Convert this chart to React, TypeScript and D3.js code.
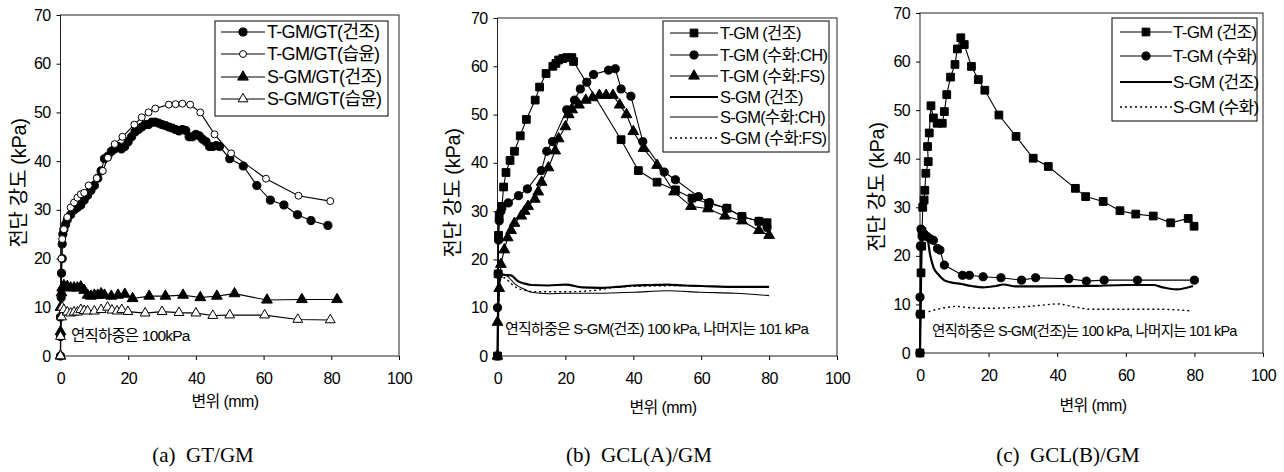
import React, { useEffect, useRef } from 'react';
import * as d3 from 'd3';

type Pt = [number, number];

const xTicks = [0, 20, 40, 60, 80, 100];
const yTicks = [0, 10, 20, 30, 40, 50, 60, 70];

// (a) GT/GM
const aTDry: Pt[] = [
  [0, 0], [0, 4], [0, 8], [0.2, 12], [0.3, 17], [0.5, 20], [0.5, 23], [0.7, 25], [1, 26], [1.5, 27],
  [2, 28], [3, 29], [4, 30], [5, 30.5], [6, 31], [7, 32], [8, 33], [9, 34], [10, 35], [11, 36.5],
  [12, 38], [13, 40.5], [14, 41], [15, 42], [16, 42.5], [17, 43], [18, 42.5], [19, 43], [20, 44],
  [21, 45], [22, 46], [23, 46.5], [24, 47], [25, 47.5], [26, 47.5], [27, 48], [28, 48], [29, 47.8],
  [30, 47.5], [31, 47.3], [32, 47], [33, 46.8], [34, 46.5], [35, 46.2], [36, 46.5], [37, 46.3],
  [38, 45], [39, 45], [40, 45.5], [41, 45.2], [42, 44.5], [43, 44], [44, 43], [45, 43], [46, 43.2],
  [47, 43], [50, 40.5], [54, 39], [58, 35], [62, 32], [66, 31], [70, 29], [74, 27.8], [79, 26.8],
];
const aTWet: Pt[] = [
  [0, 0], [0.3, 20], [0.5, 24], [1, 26], [2, 28.5], [3, 30.5], [4, 31.5], [5, 32.5], [6, 33.2],
  [7, 33.5], [8.3, 35], [10.7, 36.5], [12.5, 38], [14, 40.7], [16, 43.5], [18.3, 45], [21.8, 47.5],
  [24, 49], [26, 50], [28, 50.8], [32, 51.6], [34, 51.7], [36, 51.8], [38.3, 51.6], [41.3, 50],
  [45.5, 45.5], [50.4, 41.6], [60.7, 36.4], [70.3, 32.9], [79.7, 31.8],
];
const aSDry: Pt[] = [
  [0, 0], [0, 5], [0, 10], [0.3, 13], [0.5, 14], [1, 14.5], [2, 14.3], [3, 14], [4, 14], [5, 14],
  [6, 14.2], [7, 13.5], [8, 12.5], [9, 12.3], [10, 12.5], [11, 12.5], [12, 12.8], [13, 12.5],
  [15, 12.3], [17, 12.5], [19, 12.7], [21.3, 11.8], [26.2, 12.3], [31, 12.3], [36.2, 12.5],
  [41.3, 12], [46.2, 12.3], [51.4, 12.8], [61, 11.5], [71.3, 11.6], [81.7, 11.6],
];
const aSWet: Pt[] = [
  [0, 0], [0, 4], [0.3, 8], [0.5, 10], [1, 9.5], [2, 9], [3, 8.8], [4, 9], [5, 9], [6, 9.5],
  [7, 9.3], [8, 9.2], [10, 9.2], [12, 9.5], [13.9, 10], [15.2, 9.4], [16.7, 9.2], [18.1, 9.5],
  [19.9, 9.1], [25, 8.8], [30, 9.1], [35, 8.9], [40, 8.8], [45, 8.3], [50, 8.4], [60.3, 8.4],
  [70.1, 7.5], [79.7, 7.4],
];

// (b) GCL(A)/GM
const bTDry: Pt[] = [
  [0, 0], [0.2, 17], [0.3, 25], [0.5, 29], [1.3, 31], [1.8, 35], [2.5, 38], [3.7, 40.5], [5, 42.4],
  [6.7, 45.6], [8.5, 49], [11.1, 53], [12.4, 55.7], [14.3, 58.5], [16.3, 60], [17.2, 60.6],
  [18, 61.3], [19.2, 61.6], [20.4, 61.8], [21.9, 61.8], [22.4, 61], [36.4, 44.8], [41.5, 38.4],
  [47, 36], [52.4, 34.4], [57.3, 32.7], [62.2, 31.6], [67.6, 30.6], [72, 28.9], [77, 27.9], [79.4, 27.6],
];
const bTCH: Pt[] = [
  [0, 0], [0, 10], [0.2, 17], [0.3, 24], [0.5, 28], [1, 30], [3.2, 31.7], [6.2, 33.2], [8.8, 34.6],
  [12.9, 38.4], [14.5, 42.4], [16.2, 44.4], [20.4, 51], [22.7, 53], [24.4, 55.3], [26.3, 56.7],
  [28.3, 58.3], [32.7, 59.2], [34.7, 59.5], [36.4, 55.3], [39.3, 53.8], [42.8, 44.4], [49.1, 38.1],
  [52.4, 36.5], [59.2, 33], [62.4, 31.8], [67.4, 30.6], [72, 28.9], [77, 27.9], [79.4, 26.6],
];
const bTFS: Pt[] = [
  [0, 0], [0, 7], [0.5, 14], [1, 19], [2, 22], [3, 24.5], [4, 26], [5, 27.5], [7, 29], [8, 30],
  [9, 31], [11, 32.5], [12, 34], [13, 36], [15, 39], [17, 42.5], [18, 45], [20, 47.5], [21, 50],
  [22, 51], [24, 52], [26, 53], [28, 53.5], [30, 54], [32, 54], [34, 54], [36, 52], [38, 50],
  [40, 46.5], [43, 43], [47, 39.5], [52, 34], [57, 31], [62, 30.5], [67, 29], [72, 28], [77, 26], [80, 25],
];
const bSDry: Pt[] = [
  [0, 0], [0.2, 10], [0.5, 15], [1, 17], [2, 16.8], [4, 16.7], [6, 15.5], [8, 15], [10, 14.7],
  [15, 14.6], [20, 14.8], [25, 14.2], [30, 14.1], [35, 14.3], [40, 14.6], [45, 14.7], [50, 14.8],
  [55, 14.6], [60, 14.5], [70, 14.3], [80, 14.3],
];
const bSCH: Pt[] = [
  [0, 0], [0.5, 14], [1, 17], [2, 16.8], [3, 16.5], [5, 15], [8, 13.8], [10, 13.2], [15, 12.9],
  [20, 13], [30, 13], [40, 13.2], [50, 13.5], [60, 13.2], [70, 13], [80, 12.5],
];
const bSFS: Pt[] = [
  [0, 0], [0.5, 13], [1, 16], [2, 16.2], [4, 15], [6, 14], [8, 13.6], [12, 13.3], [20, 13.3],
  [30, 13.7], [35, 14.3], [45, 14.5], [55, 14.6], [60, 14.5],
];

// (c) GCL(B)/GM
const cTDry: Pt[] = [
  [0, 0], [0.2, 8], [0.3, 16.5], [0.5, 22], [0.6, 25], [0.8, 30], [1.2, 31.5], [1.4, 33.5],
  [1.7, 37], [2.4, 39.4], [2.2, 42.5], [2.7, 45.3], [3.2, 50.9], [3.9, 48.4], [5, 47.3], [6.5, 47.3],
  [7.1, 49.7], [7.8, 53.2], [8.9, 56.8], [10.2, 59.4], [10.9, 62.6], [11.9, 64.9], [12.9, 63.5],
  [15, 59], [17, 56.3], [18.9, 54.1], [23, 49], [28, 44.6], [33, 40.1], [37.4, 38.4], [45.3, 33.9],
  [48.3, 32.2], [53.4, 31.2], [58.3, 29.3], [62.9, 28.6], [68, 28.2], [73.1, 26.8], [78.2, 27.7], [79.9, 26.1],
];
const cTHyd: Pt[] = [
  [0, 0], [0, 8], [0, 11.5], [0.1, 22], [0.3, 25.5], [0.6, 24], [1.2, 24.5], [2, 24], [3, 23.5],
  [3.9, 23.2], [5.1, 21.5], [5.8, 21.2], [7.1, 18.1], [12.4, 16], [14.4, 16], [18.4, 15.7],
  [23.6, 15.5], [29.6, 15], [33.7, 15.5], [43.4, 15.3], [48.5, 14.8], [53.7, 15], [63.4, 15], [80, 15],
];
const cSDry: Pt[] = [
  [0, 0], [0.3, 15], [0.5, 22], [1, 24], [2, 24], [3, 20], [4, 17.5], [5.3, 16.2], [7, 15],
  [8.7, 14.6], [12, 14.2], [15, 13.8], [18.4, 13.5], [22, 13.8], [24.3, 14.1], [28, 13.7], [35, 13.7],
  [50, 13.8], [60, 14], [68, 14], [70.9, 13.5], [74.8, 13.1], [79.6, 13.8],
];
const cSHyd: Pt[] = [
  [2.5, 8.5], [5, 9], [8, 9.4], [10, 9.6], [15, 9.3], [20, 9.2], [25, 9.3], [30, 9.5], [35, 9.8],
  [40, 10.1], [45, 9.5], [50, 9], [60, 9], [70, 9], [78.6, 8.7],
];

type Series = {
  name: string;
  data: Pt[];
  marker: 'circle' | 'square' | 'triangle' | null;
  open?: boolean;
  width?: number;
  dash?: string;
};

type Panel = {
  x: [number, number];
  y: [number, number];
  series: Series[];
  legend: { x: number; y: number; w: number; h: number; rows: number[]; l0: number; l1: number; tx: number; fs: number };
  note: { text: string; x: number; y: number; fs: number };
  yLabel: { x: number; y: number };
  xLabel: { x: number; y: number };
  caption: { text: string; x: number };
};

const panels: Panel[] = [
  {
    x: [60.5, 399],
    y: [356, 15],
    series: [
      { name: 'T-GM/GT(건조)', data: aTDry, marker: 'circle' },
      { name: 'T-GM/GT(습윤)', data: aTWet, marker: 'circle', open: true },
      { name: 'S-GM/GT(건조)', data: aSDry, marker: 'triangle' },
      { name: 'S-GM/GT(습윤)', data: aSWet, marker: 'triangle', open: true },
    ],
    legend: { x: 215, y: 21, w: 173, h: 95, rows: [32, 54, 77, 99], l0: 221, l1: 265, tx: 267, fs: 18 },
    note: { text: '연직하중은 100kPa', x: 71, y: 341, fs: 15.5 },
    yLabel: { x: 19, y: 183 },
    xLabel: { x: 225, y: 401 },
    caption: { text: '(a)  GT/GM', x: 203 },
  },
  {
    x: [497.5, 837],
    y: [356, 18],
    series: [
      { name: 'T-GM (건조)', data: bTDry, marker: 'square' },
      { name: 'T-GM (수화:CH)', data: bTCH, marker: 'circle' },
      { name: 'T-GM (수화:FS)', data: bTFS, marker: 'triangle' },
      { name: 'S-GM (건조)', data: bSDry, marker: null, width: 2.2 },
      { name: 'S-GM(수화:CH)', data: bSCH, marker: null, width: 1.1 },
      { name: 'S-GM (수화:FS)', data: bSFS, marker: null, width: 1.4, dash: '2,3' },
    ],
    legend: { x: 663, y: 21, w: 166, h: 131, rows: [33, 55, 76, 97, 117, 138], l0: 670, l1: 718, tx: 720, fs: 16.5 },
    note: { text: '연직하중은 S-GM(건조) 100 kPa, 나머지는 101 kPa', x: 505, y: 334, fs: 15 },
    yLabel: { x: 453, y: 193 },
    xLabel: { x: 663, y: 407 },
    caption: { text: '(b)  GCL(A)/GM', x: 639 },
  },
  {
    x: [920, 1263],
    y: [353, 13],
    series: [
      { name: 'T-GM (건조)', data: cTDry, marker: 'square' },
      { name: 'T-GM (수화)', data: cTHyd, marker: 'circle' },
      { name: 'S-GM (건조)', data: cSDry, marker: null, width: 2.2 },
      { name: 'S-GM (수화)', data: cSHyd, marker: null, width: 1.4, dash: '2,3' },
    ],
    legend: { x: 1112, y: 18, w: 145, h: 103, rows: [32, 56, 82, 107], l0: 1120, l1: 1172, tx: 1173, fs: 17 },
    note: { text: '연직하중은 S-GM(건조)는 100 kPa, 나머지는 101 kPa', x: 932, y: 336, fs: 14.5 },
    yLabel: { x: 877, y: 187 },
    xLabel: { x: 1093, y: 405 },
    caption: { text: '(c)  GCL(B)/GM', x: 1068 },
  },
];

const FONT = "'Liberation Sans', 'Noto Sans CJK KR', sans-serif";

function symbolPath(kind: 'circle' | 'square' | 'triangle', open?: boolean) {
  if (kind === 'circle') return d3.symbol(d3.symbolCircle, open ? 38 : 52)();
  if (kind === 'square') return d3.symbol(d3.symbolSquare, 60)();
  return d3.symbol(d3.symbolTriangle, open ? 42 : 50)();
}

export default function App() {
  const ref = useRef<SVGSVGElement>(null);

  useEffect(() => {
    const svg = d3.select(ref.current);
    svg.selectAll('*').remove();

    panels.forEach((p) => {
      const xs = d3.scaleLinear().domain([0, 100]).range(p.x);
      const ys = d3.scaleLinear().domain([0, 70]).range(p.y);
      const g = svg.append('g');

      // 테두리
      g.append('rect')
        .attr('x', p.x[0]).attr('y', p.y[1])
        .attr('width', p.x[1] - p.x[0]).attr('height', p.y[0] - p.y[1])
        .attr('fill', 'none').attr('stroke', '#222').attr('stroke-width', 1);

      const xAxis = g.append('g').attr('transform', `translate(0,${p.y[0]})`)
        .call(d3.axisBottom(xs).tickValues(xTicks).tickSize(4).tickPadding(13).tickFormat(d3.format('d')));
      const yAxis = g.append('g').attr('transform', `translate(${p.x[0]},0)`)
        .call(d3.axisLeft(ys).tickValues(yTicks).tickSize(4).tickPadding(6).tickFormat(d3.format('d')));
      [xAxis, yAxis].forEach((ax) => {
        ax.select('.domain').remove();
        ax.selectAll('line').attr('stroke', '#000');
        ax.selectAll('text').attr('fill', '#000').style('font-family', FONT)
          .style('font-size', '16px').style('letter-spacing', '-0.6px');
      });

      // 데이터
      p.series.forEach((s) => {
        const line = d3.line<Pt>().x((d) => xs(d[0])).y((d) => ys(d[1]));
        if (!s.marker) line.curve(d3.curveMonotoneX);
        g.append('path')
          .attr('d', line(s.data))
          .attr('fill', 'none').attr('stroke', '#000')
          .attr('stroke-width', s.width ?? 1.1)
          .attr('stroke-dasharray', s.dash ?? null);
        if (s.marker) {
          g.selectAll(null).data(s.data).join('path')
            .attr('transform', (d) => `translate(${xs(d[0])},${ys(d[1])})`)
            .attr('d', symbolPath(s.marker, s.open))
            .attr('fill', s.open ? '#fff' : '#000')
            .attr('stroke', '#000').attr('stroke-width', 1);
        }
      });

      // 범례
      const L = p.legend;
      g.append('rect').attr('x', L.x).attr('y', L.y).attr('width', L.w).attr('height', L.h)
        .attr('fill', '#fff').attr('stroke', '#000').attr('stroke-width', 1);
      p.series.forEach((s, i) => {
        const ry = L.rows[i];
        g.append('line').attr('x1', L.l0).attr('x2', L.l1).attr('y1', ry).attr('y2', ry)
          .attr('stroke', '#000').attr('stroke-width', s.width ?? 1.1)
          .attr('stroke-dasharray', s.dash ?? null);
        if (s.marker) {
          g.append('path').attr('transform', `translate(${(L.l0 + L.l1) / 2},${ry})`)
            .attr('d', symbolPath(s.marker, s.open))
            .attr('fill', s.open ? '#fff' : '#000').attr('stroke', '#000');
        }
        g.append('text').attr('x', L.tx).attr('y', ry).attr('dy', '0.36em')
          .style('font-family', FONT).style('font-size', `${L.fs}px`).style('letter-spacing', '-0.7px')
          .text(s.name);
      });

      g.append('text').attr('x', p.note.x).attr('y', p.note.y)
        .style('font-family', FONT).style('font-size', `${p.note.fs}px`).style('letter-spacing', '-0.8px')
        .text(p.note.text);

      g.append('text')
        .attr('transform', `translate(${p.yLabel.x},${p.yLabel.y}) rotate(-90)`)
        .attr('text-anchor', 'middle').attr('dy', '0.35em')
        .style('font-family', FONT).style('font-size', '20px').style('letter-spacing', '-0.3px')
        .text('전단 강도 (kPa)');

      g.append('text').attr('x', p.xLabel.x).attr('y', p.xLabel.y)
        .attr('text-anchor', 'middle').attr('dy', '0.35em')
        .style('font-family', FONT).style('font-size', '16px').style('letter-spacing', '-0.6px')
        .text('변위 (mm)');

      g.append('text').attr('x', p.caption.x).attr('y', 462)
        .attr('text-anchor', 'middle')
        .style('font-family', "'Liberation Serif', 'DejaVu Serif', serif").style('font-size', '21px')
        .style('white-space', 'pre')
        .text(p.caption.text);
    });
  }, []);

  return (
    <svg ref={ref} width={1284} height={472}
      style={{ position: 'absolute', left: 0, top: 0, background: '#fff' }} />
  );
}
